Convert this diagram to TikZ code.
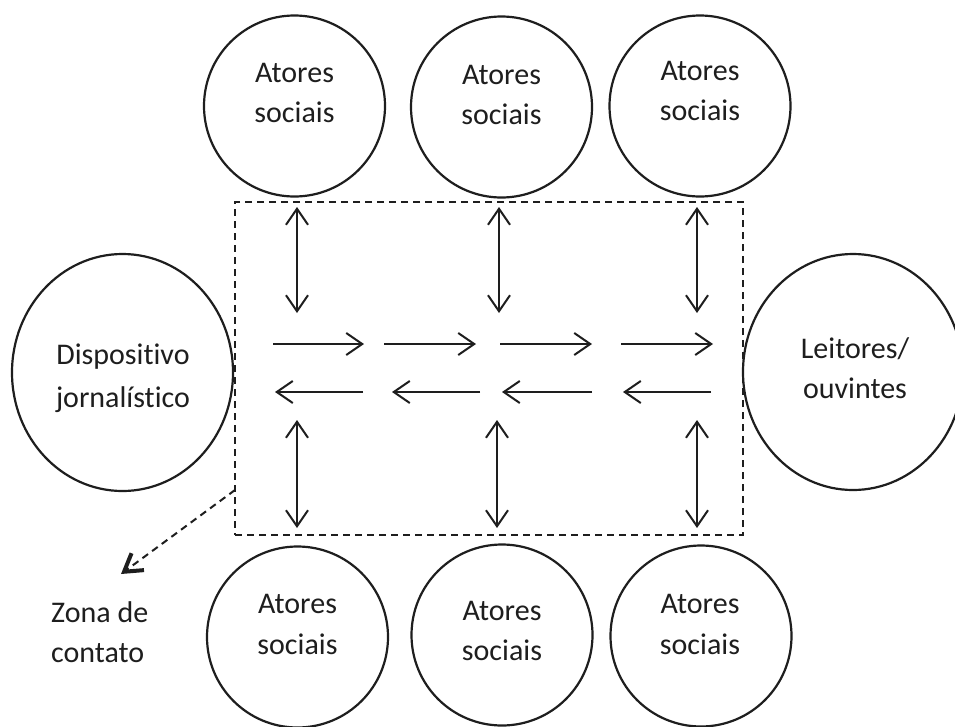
\documentclass[tikz,border=0pt]{standalone}
\usepackage{fontspec}
\setmainfont{Carlito}[Ligatures={NoCommon,NoContextual,NoRare}]
\usetikzlibrary{arrows.meta,shapes.geometric}
\definecolor{ink}{HTML}{1E1E1E}
\begin{document}
\begin{tikzpicture}[x=1pt,y=-1pt,
  circ/.style={draw=ink,line width=2.2pt,circle,minimum size=181pt,inner sep=0pt},
  oval/.style={draw=ink,line width=2.2pt,ellipse,minimum width=221pt,minimum height=237pt,inner sep=0pt},
  lbl/.style={anchor=base,inner sep=0pt,text=ink,font=\fontsize{30}{41}\selectfont},
  lbll/.style={lbl,anchor=base west},
  arr/.style={draw=ink,line width=2pt,-{Straight Barb[length=16pt,width=22pt,line width=2pt]}},
  darr/.style={draw=ink,line width=2pt,{Straight Barb[length=16pt,width=22pt,line width=2pt]}-{Straight Barb[length=16pt,width=22pt,line width=2pt]}},
  zone/.style={draw=ink,line width=2pt,dash pattern=on 7pt off 5pt}]
\useasboundingbox (0,0) rectangle (955,726);
\fill[white] (0,0) rectangle (955,726);

% top circles
\node[circ] (t1) at (294.5,106) {};
\node[circ] (t2) at (501.5,107) {};
\node[circ] (t3) at (700,106) {};
\node[lbl] (t1a) at (294.5,82) {Atores};
\node[lbl] (t1b) at (294.5,122) {sociais};
\node[lbl] (t2a) at (501.5,84) {Atores};
\node[lbl] (t2b) at (501.5,124) {sociais};
\node[lbl] (t3a) at (700,80) {Atores};
\node[lbl] (t3b) at (700,120) {sociais};

% bottom circles
\node[circ] (b1) at (297.5,637) {};
\node[circ] (b2) at (502,635) {};
\node[circ] (b3) at (701,636) {};
\node[lbl] (b1a) at (297.5,613) {Atores};
\node[lbl] (b1b) at (297.5,654) {sociais};
\node[lbl] (b2a) at (502,620) {Atores};
\node[lbl] (b2b) at (502,660) {sociais};
\node[lbl] (b3a) at (700,613) {Atores};
\node[lbl] (b3b) at (700,654) {sociais};

% side ovals
\node[oval] (dj) at (122.5,372.5) {};
\node[lbl] (dja) at (123,364) {Dispositivo};
\node[lbl] (djb) at (123,407) {jornalístico};
\node[oval,minimum width=220pt,minimum height=236pt] (lo) at (853,372) {};
\node[lbl] (loa) at (855,358) {Leitores/};
\node[lbl] (lob) at (855,398) {ouvintes};

% zone of contact
\node[zone,rectangle,inner sep=0pt,minimum width=508pt,minimum height=333pt] (zc) at (489,368.5) {};
\coordinate (zs) at (235,490);
\coordinate (zt) at (121,574);
\draw[zone,-{Straight Barb[length=17pt,width=21pt,line width=4pt]}] (zs) -- (zt);
\node[lbll] (zna) at (51,622) {Zona de};
\node[lbll] (znb) at (51,662) {contato};

% vertical double arrows
\foreach \i/\x in {1/297,2/499,3/697}{
  \coordinate (vt\i a) at (\x,207);
  \coordinate (vt\i b) at (\x,313);
  \draw[darr] (vt\i a) -- (vt\i b);
}
\foreach \i/\x in {1/297,2/497,3/697}{
  \coordinate (vb\i a) at (\x,420);
  \coordinate (vb\i b) at (\x,528);
  \draw[darr] (vb\i a) -- (vb\i b);
}

% horizontal arrows, rightwards
\foreach \i/\a/\b in {1/273/364,2/384/476,3/500/592,4/621/713}{
  \coordinate (hr\i a) at (\a,344);
  \coordinate (hr\i b) at (\b,344);
  \draw[arr] (hr\i a) -- (hr\i b);
}
% horizontal arrows, leftwards
\foreach \i/\a/\b in {1/363/275,2/480/392,3/592/502,4/711/623}{
  \coordinate (hl\i a) at (\a,392);
  \coordinate (hl\i b) at (\b,392);
  \draw[arr] (hl\i a) -- (hl\i b);
}
\end{tikzpicture}
\end{document}
